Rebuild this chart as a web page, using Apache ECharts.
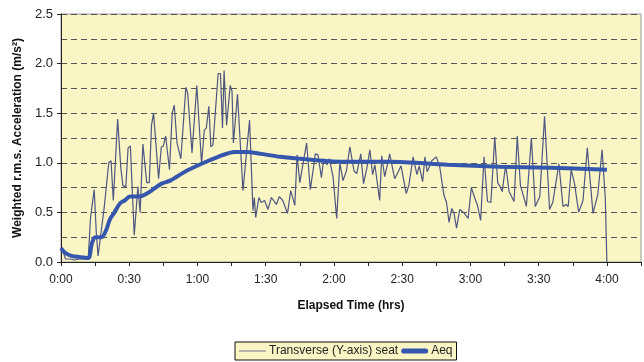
<!DOCTYPE html>
<html>
<head>
<meta charset="utf-8">
<script src="https://cdn.jsdelivr.net/npm/echarts@6/dist/echarts.min.js"></script>
<style>
  html, body { margin: 0; padding: 0; background: #fff; }
  #chart { width: 644px; height: 362px; }
</style>
</head>
<body>
<div id="chart"></div>
<script>
// elapsed minutes and weighted r.m.s. acceleration (m/s²)
const seatMinutes = [0, 1, 2, 4, 6, 8, 10, 12, 13, 14.6, 15.5, 16.3, 17, 19, 21, 22, 23, 24.9, 26.3, 27.2, 28.5, 29.5, 30.5, 32.2, 33.8, 34.8, 36, 37.7, 38.8, 39.8, 40.7, 42.9, 44.1, 45, 46, 47.7, 48.9, 49.8, 51, 52.7, 54.9, 55.7, 57.6, 59.7, 61.8, 63, 63.9, 65, 65.9, 66.8, 69.1, 70.1, 71, 71.7, 72.8, 74.4, 75.2, 75.8, 77.6, 80, 82.9, 84.4, 85, 85.6, 87, 88, 89.5, 91, 92.5, 94.7, 96, 97.5, 99.6, 101, 102.8, 103.8, 105, 106.6, 108, 109.6, 111, 111.8, 113, 114.5, 115.5, 117, 118, 119.6, 121.2, 122.6, 124, 125.5, 127, 128.8, 130, 131.8, 133, 134.5, 135.8, 137, 138, 140.1, 141, 142.3, 143.8, 144.5, 146.7, 148.5, 149.5, 151.8, 153, 154.8, 156.5, 157.5, 159, 160, 161, 163, 165, 166.5, 168.4, 169.5, 170.6, 171.8, 172.8, 173.9, 175.3, 177, 179, 180.4, 182, 183, 184.5, 186, 187.5, 189, 190.7, 192, 193, 194, 195.5, 197, 199.2, 200.6, 202, 204.6, 206.8, 208.5, 210.5, 212.6, 214.8, 216.2, 217, 218.9, 220.7, 222, 223, 224.3, 225.7, 227.6, 229.5, 231.4, 233.9, 236, 237.9, 239.3, 240];
const seatValues = [0.14, 0.1, 0.03, 0.03, 0.02, 0.03, 0.03, 0.05, 0.45, 0.73, 0.3, 0.06, 0.05, 0.55, 1.0, 1.02, 0.62, 1.44, 0.95, 0.77, 0.76, 1.15, 1.17, 0.27, 0.76, 0.5, 1.19, 0.8, 0.8, 1.38, 1.5, 0.84, 1.16, 1.17, 1.27, 0.93, 1.5, 1.58, 1.2, 1.04, 1.76, 1.7, 1.1, 1.78, 0.99, 1.33, 1.35, 1.57, 1.16, 1.18, 1.9, 1.9, 1.35, 1.93, 1.38, 1.78, 1.72, 1.2, 1.69, 0.72, 1.43, 0.52, 0.65, 0.45, 0.65, 0.6, 0.62, 0.53, 0.65, 0.58, 0.66, 0.62, 0.49, 0.72, 0.57, 1.08, 0.8, 1.02, 1.2, 0.73, 0.95, 1.09, 1.08, 0.85, 1.04, 0.98, 1.04, 0.86, 0.44, 1.0, 0.82, 0.92, 1.16, 0.92, 0.89, 1.09, 0.79, 0.95, 1.13, 0.88, 0.98, 0.62, 1.07, 0.86, 1.01, 1.09, 0.84, 0.92, 0.97, 0.69, 0.78, 1.06, 0.88, 0.97, 0.81, 1.06, 0.91, 1.02, 1.06, 0.96, 0.67, 0.6, 0.4, 0.54, 0.49, 0.34, 0.53, 0.5, 0.44, 0.75, 0.64, 0.58, 0.42, 1.06, 0.61, 0.6, 1.26, 0.8, 0.76, 0.71, 0.98, 0.71, 0.61, 1.27, 0.77, 0.56, 1.25, 0.56, 0.66, 1.47, 0.53, 0.6, 0.58, 0.99, 0.56, 0.58, 0.56, 0.93, 0.8, 0.5, 0.62, 1.15, 0.49, 0.68, 1.13, 0.64, 0];

const aeqMinutes = [0, 2, 5, 8, 12, 13.5, 15, 17.8, 20, 21.5, 23.5, 25.9, 28, 30.3, 34.7, 37, 39.8, 44.2, 48, 54.5, 61.8, 69.1, 76.4, 81.5, 88.1, 96.3, 110, 124.7, 144.6, 170, 193, 215, 240];
const aeqValues = [0.14, 0.09, 0.06, 0.05, 0.04, 0.18, 0.25, 0.25, 0.33, 0.43, 0.5, 0.59, 0.62, 0.66, 0.66, 0.68, 0.72, 0.79, 0.82, 0.91, 0.99, 1.06, 1.11, 1.11, 1.09, 1.06, 1.03, 1.01, 1.01, 0.98, 0.96, 0.95, 0.93];

const xLabelStep = 30;
const yLabels = ['0.0', '0.5', '1.0', '1.5', '2.0', '2.5'];

const font = '"Liberation Sans", Arial, sans-serif';
const seatColor = '#4f5682';
const aeqColor = '#3556ad';

function hhmm(v) {
  const h = Math.floor(v / 60);
  const m = Math.round(v % 60);
  return h + ':' + (m < 10 ? '0' + m : m);
}

const chart = echarts.init(document.getElementById('chart'));
chart.setOption({
  animation: false,
  textStyle: { fontFamily: font },
  grid: {
    left: 61,
    right: 2,
    top: 14,
    bottom: 100,
    show: true,
    backgroundColor: '#FAF5C4',
    borderColor: '#9a9a9a',
    borderWidth: 1,
  },
  legend: {
    left: 235,
    top: 342,
    padding: [3, 4, 3, 4],
    itemGap: 3,
    itemWidth: 27,
    itemHeight: 10,
    backgroundColor: '#FAF5C4',
    borderColor: '#111',
    borderWidth: 1,
    borderRadius: 0,
    textStyle: { fontFamily: font, fontSize: 12, color: '#222', padding: [0, 0, 0, -2] },
    data: [
      { name: 'Transverse (Y-axis) seat', icon: 'path://M0,0L40,0L40,1.2L0,1.2Z', itemStyle: { color: seatColor } },
      { name: 'Aeq', icon: 'path://M2.5,0L24.5,0A2.5,2.5,0,0,1,24.5,5L2.5,5A2.5,2.5,0,0,1,2.5,0Z', itemStyle: { color: aeqColor } },
    ],
  },
  xAxis: {
    type: 'value',
    min: 0,
    max: 255,
    interval: 15,
    name: 'Elapsed Time (hrs)',
    nameLocation: 'middle',
    nameGap: 38,
    nameTextStyle: { fontFamily: font, fontSize: 12, fontWeight: 'bold', color: '#111' },
    axisLine: { show: true, lineStyle: { color: '#222', width: 1 } },
    axisTick: { show: true, inside: false, length: 4, lineStyle: { color: '#222' } },
    axisLabel: {
      margin: 12,
      fontSize: 12,
      color: '#222',
      fontFamily: font,
      formatter: (v) => (v % xLabelStep === 0 && v <= 240 ? hhmm(v) : ''),
    },
    splitLine: { show: false },
  },
  yAxis: {
    type: 'value',
    min: 0,
    max: 2.5,
    interval: 0.5,
    name: 'Weighted r.m.s. Acceleration (m/s²)',
    nameLocation: 'middle',
    nameGap: 33,
    nameTextStyle: { fontFamily: font, fontSize: 12, fontWeight: 'bold', color: '#111' },
    axisLine: { show: true, lineStyle: { color: '#222', width: 1 } },
    axisTick: { show: true, inside: false, length: 4, lineStyle: { color: '#222' } },
    axisLabel: {
      margin: 8,
      fontSize: 13,
      color: '#222',
      fontFamily: font,
      formatter: (v) => yLabels[Math.round(v / 0.5)] || '',
    },
    splitLine: { show: true, lineStyle: { color: '#555', type: [6, 4], width: 1 } },
    minorTick: { show: false, splitNumber: 2 },
    minorSplitLine: { show: true, lineStyle: { color: '#555', type: [6, 4], width: 1 } },
  },
  series: [
    {
      name: 'Transverse (Y-axis) seat',
      type: 'line',
      symbol: 'none',
      smooth: false,
      lineStyle: { color: seatColor, width: 1.2 },
      itemStyle: { color: seatColor },
      data: seatMinutes.map((m, i) => [m, seatValues[i]]),
    },
    {
      name: 'Aeq',
      type: 'line',
      symbol: 'none',
      smooth: 0.3,
      lineStyle: { color: aeqColor, width: 4 },
      itemStyle: { color: aeqColor },
      data: aeqMinutes.map((m, i) => [m, aeqValues[i]]),
    },
  ],
});
</script>
</body>
</html>
